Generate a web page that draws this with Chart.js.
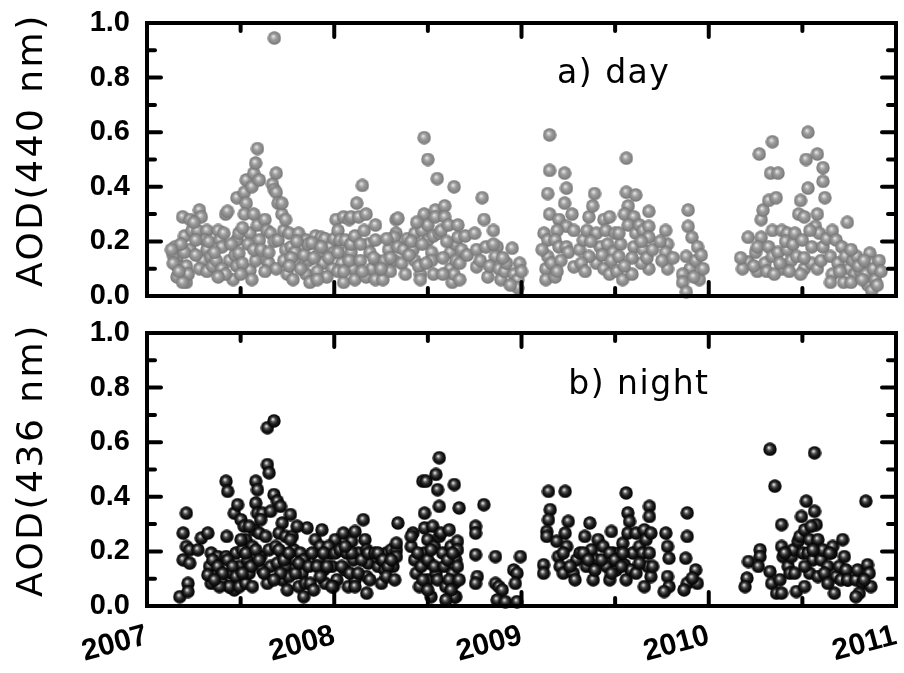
<!DOCTYPE html>
<html><head><meta charset="utf-8">
<script src="https://cdn.jsdelivr.net/npm/chart.js@4.4.1/dist/chart.umd.min.js"></script>
<style>
html,body{margin:0;padding:0;background:#fff;}
#wrap{position:relative;width:904px;height:673px;overflow:hidden;background:#fff;}
#c1{position:absolute;left:0;top:0;}
#c2{position:absolute;left:0;top:310px;}
</style></head><body>
<div id="wrap">
<canvas id="c1" width="904" height="330"></canvas>
<canvas id="c2" width="904" height="363"></canvas>
</div>
<script>
// ---------- data ----------
const yearTicks = [2007, 2008, 2009, 2010, 2011];
const aodTicks = [0.0, 0.2, 0.4, 0.6, 0.8, 1.0];
const axisTitles = ['AOD(440 nm)', 'AOD(436 nm)'];
const panelLabels = ['a) day', 'b) night'];

const dayTime = [
2007.15,2007.16,2007.16,2007.21,2007.21,2007.22,2007.19,2007.23,2007.20,2007.23,2007.14,2007.14,2007.16,2007.19,2007.17,2007.20,2007.18,2007.13,
2007.28,2007.29,2007.24,2007.27,2007.32,2007.31,2007.26,2007.30,2007.32,2007.34,2007.25,2007.33,2007.28,2007.32,2007.35,2007.26,
2007.38,2007.42,2007.43,2007.39,2007.40,2007.37,2007.44,2007.46,2007.41,2007.48,2007.49,2007.36,2007.40,2007.42,2007.47,2007.48,2007.45,2007.38,
2007.48,2007.52,2007.53,2007.57,2007.58,2007.59,2007.56,2007.53,2007.52,2007.55,2007.49,2007.55,2007.56,2007.57,2007.60,2007.60,2007.58,2007.51,2007.54,2007.51,2007.57,2007.50,2007.59,
2007.63,2007.64,2007.64,2007.65,2007.66,2007.67,2007.68,2007.69,2007.69,2007.70,2007.72,2007.72,2007.68,2007.70,2007.73,2007.74,2007.68,2007.61,2007.65,2007.69,2007.73,2007.63,2007.74,
2007.76,2007.77,2007.81,2007.83,2007.79,2007.75,2007.85,2007.86,2007.85,2007.87,2007.79,2007.77,2007.78,2007.82,2007.84,2007.86,2007.76,2007.80,
2007.90,2007.93,2007.95,2007.92,2007.94,2007.98,2007.99,2008.00,2007.88,2007.89,2007.91,2007.96,2007.97,2008.00,2007.93,2007.91,
2008.01,2008.02,2008.05,2008.08,2008.09,2008.03,2008.06,2008.06,2008.04,2008.05,2008.09,2008.10,2008.11,2008.12,2008.13,2008.09,2008.02,2008.08,2008.05,2008.11,2008.02,
2008.15,2008.17,2008.16,2008.18,2008.19,2008.17,2008.20,2008.22,2008.23,2008.22,2008.14,2008.15,2008.21,2008.22,2008.14,
2008.26,2008.27,2008.29,2008.32,2008.33,2008.33,2008.34,2008.32,2008.34,2008.30,2008.25,2008.28,2008.30,2008.36,2008.37,2008.38,2008.39,
2008.43,2008.42,2008.43,2008.46,2008.46,2008.48,2008.48,2008.50,2008.47,2008.50,2008.50,2008.52,2008.53,2008.54,2008.54,2008.52,2008.41,2008.45,2008.47,2008.49,2008.53,2008.40,2008.44,
2008.55,2008.56,2008.57,2008.59,2008.59,2008.61,2008.62,2008.62,2008.63,2008.64,2008.65,2008.66,2008.66,2008.65,2008.64,2008.58,2008.60,2008.58,2008.67,2008.68,2008.67,2008.70,2008.71,
2008.75,2008.76,2008.76,2008.79,2008.80,2008.81,2008.85,2008.87,2008.86,2008.78,2008.82,2008.83,2008.85,
2008.88,2008.89,2008.91,2008.95,2008.96,2008.98,2008.99,2008.98,2008.94,2008.92,2009.00,2008.90,
2009.15,2009.15,2009.14,2009.15,2009.12,2009.14,2009.14,2009.13,2009.13,2009.18,2009.23,2009.24,2009.23,2009.20,2009.24,2009.19,2009.18,2009.20,2009.24,2009.27,2009.28,2009.25,2009.28,2009.16,2009.21,2009.11,2009.19,
2009.31,2009.33,2009.35,2009.36,2009.39,2009.38,2009.40,2009.42,2009.40,2009.36,2009.44,2009.45,2009.47,2009.46,2009.44,2009.49,2009.50,2009.47,2009.32,2009.37,2009.43,2009.48,2009.34,
2009.56,2009.56,2009.61,2009.57,2009.55,2009.60,2009.57,2009.53,2009.52,2009.51,2009.54,2009.60,2009.61,2009.63,2009.65,2009.68,2009.68,2009.68,2009.65,2009.68,2009.64,2009.59,2009.52,2009.59,2009.64,2009.67,2009.55,2009.70,
2009.77,2009.78,2009.77,2009.78,2009.75,2009.89,2009.89,2009.91,2009.94,2009.88,2009.90,2009.86,2009.86,2009.88,2009.93,2009.95,2009.97,2009.74,2009.81,2009.96,2009.92,
2010.21,2010.21,2010.18,2010.25,2010.26,2010.27,2010.28,2010.28,2010.29,2010.26,2010.17,2010.24,2010.30,
2010.34,2010.33,2010.37,2010.32,2010.36,2010.34,2010.39,2010.32,2010.34,2010.31,2010.37,2010.39,2010.42,2010.42,2010.44,2010.35,2010.41,2010.43,2010.38,2010.45,
2010.53,2010.52,2010.58,2010.53,2010.49,2010.48,2010.51,2010.46,2010.50,2010.47,2010.51,2010.55,2010.57,2010.58,2010.61,2010.61,2010.62,2010.59,2010.61,2010.55,2010.58,2010.51,2010.54,2010.60,2010.63,2010.49,
2010.66,2010.68,2010.65,2010.69,2010.66,2010.65,2010.71,2010.74,2010.73,2010.75,2010.77,2010.78,2010.72,2010.79,2010.76,2010.81,2010.70,2010.76,2010.80,
2010.86,2010.87,2010.84,2010.88,2010.85,2010.87,2010.89,2010.83,2010.82,2010.91,2010.92,2010.90
];
const dayAOD = [
0.18,0.14,0.11,0.11,0.05,0.08,0.29,0.28,0.22,0.17,0.15,0.12,0.07,0.05,0.09,0.16,0.19,0.17,
0.315,0.29,0.24,0.24,0.24,0.205,0.205,0.13,0.17,0.145,0.27,0.20,0.10,0.09,0.11,0.15,
0.24,0.30,0.31,0.205,0.18,0.13,0.13,0.06,0.23,0.205,0.23,0.16,0.10,0.08,0.15,0.11,0.19,0.07,
0.36,0.38,0.425,0.45,0.487,0.54,0.40,0.34,0.30,0.23,0.157,0.095,0.06,0.30,0.425,0.205,0.13,0.25,0.19,0.12,0.17,0.08,0.26,
0.28,0.24,0.13,0.12,0.23,0.41,0.39,0.45,0.38,0.34,0.30,0.34,0.20,0.205,0.24,0.17,0.945,0.17,0.16,0.10,0.13,0.09,0.28,
0.23,0.18,0.23,0.18,0.12,0.08,0.205,0.13,0.08,0.05,0.16,0.14,0.06,0.10,0.15,0.19,0.11,0.20,
0.22,0.215,0.21,0.16,0.12,0.18,0.10,0.16,0.195,0.14,0.09,0.07,0.14,0.21,0.18,0.06,
0.28,0.24,0.29,0.28,0.29,0.205,0.205,0.16,0.12,0.05,0.16,0.10,0.06,0.34,0.29,0.19,0.09,0.13,0.09,0.22,0.16,
0.405,0.30,0.24,0.19,0.16,0.07,0.10,0.205,0.13,0.06,0.13,0.09,0.14,0.26,0.19,
0.06,0.13,0.17,0.13,0.23,0.28,0.285,0.215,0.18,0.09,0.10,0.21,0.14,0.12,0.17,0.08,0.21,
0.23,0.17,0.13,0.08,0.06,0.30,0.58,0.50,0.24,0.26,0.205,0.16,0.08,0.315,0.29,0.13,0.20,0.11,0.19,0.12,0.22,0.15,0.27,
0.43,0.23,0.24,0.33,0.29,0.26,0.16,0.10,0.05,0.40,0.19,0.215,0.26,0.13,0.08,0.14,0.20,0.08,0.12,0.17,0.06,0.22,0.15,
0.23,0.107,0.17,0.36,0.28,0.18,0.24,0.18,0.145,0.13,0.07,0.11,0.19,
0.10,0.06,0.09,0.175,0.08,0.06,0.12,0.03,0.04,0.12,0.09,0.14,
0.59,0.46,0.375,0.30,0.23,0.205,0.145,0.10,0.06,0.07,0.45,0.395,0.34,0.28,0.255,0.24,0.205,0.18,0.18,0.30,0.24,0.16,0.107,0.12,0.13,0.17,0.09,
0.17,0.205,0.24,0.29,0.375,0.33,0.23,0.18,0.12,0.145,0.28,0.24,0.29,0.19,0.10,0.16,0.23,0.08,0.12,0.20,0.15,0.13,0.09,
0.505,0.38,0.37,0.33,0.30,0.29,0.26,0.19,0.145,0.09,0.06,0.18,0.23,0.26,0.24,0.31,0.255,0.215,0.17,0.10,0.12,0.08,0.23,0.14,0.20,0.14,0.11,0.17,
0.24,0.19,0.16,0.10,0.13,0.315,0.255,0.215,0.18,0.145,0.10,0.08,0.05,0.015,0.13,0.06,0.10,0.20,0.14,0.15,0.07,
0.125,0.215,0.10,0.16,0.09,0.52,0.215,0.28,0.315,0.18,0.14,0.11,0.12,
0.565,0.45,0.45,0.35,0.36,0.24,0.24,0.18,0.145,0.09,0.16,0.10,0.23,0.17,0.13,0.08,0.20,0.09,0.12,0.19,
0.60,0.50,0.52,0.395,0.35,0.30,0.29,0.23,0.205,0.145,0.10,0.18,0.255,0.30,0.47,0.42,0.36,0.23,0.18,0.12,0.10,0.14,0.24,0.13,0.21,0.08,
0.24,0.205,0.145,0.12,0.08,0.05,0.18,0.27,0.145,0.10,0.13,0.08,0.05,0.145,0.05,0.09,0.09,0.17,0.11,
0.157,0.12,0.08,0.10,0.04,0.02,0.06,0.13,0.06,0.13,0.09,0.04
];

const nightTime = [
2007.175,2007.219,2007.219,2007.210,2007.193,2007.210,2007.228,2007.193,2007.228,2007.272,2007.290,2007.325,2007.343,2007.334,2007.343,2007.325,
2007.378,2007.396,2007.404,2007.422,2007.426,2007.422,2007.431,2007.449,2007.440,2007.466,2007.475,2007.466,2007.484,2007.493,2007.493,
2007.351,2007.378,2007.404,2007.431,2007.457,2007.475,2007.440,2007.493,2007.387,2007.360,
2007.502,2007.519,2007.528,2007.510,2007.537,2007.528,2007.546,2007.563,2007.581,2007.581,2007.590,2007.572,2007.599,2007.590,2007.616,2007.607,2007.616,2007.643,2007.643,2007.678,2007.643,2007.652,2007.660,2007.634,2007.652,2007.660,
2007.502,2007.528,2007.555,2007.581,2007.599,2007.625,2007.563,2007.510,2007.607,2007.546,
2007.678,2007.696,2007.713,2007.722,2007.766,2007.705,2007.740,2007.687,2007.722,2007.696,2007.740,2007.722,2007.749,2007.776,2007.784,2007.793,2007.758,2007.819,2007.837,2007.828,2007.811,2007.837,2007.855,
2007.705,2007.731,2007.758,2007.766,2007.793,2007.713,2007.802,2007.846,2007.811,2007.678,
2007.864,2007.872,2007.890,2007.899,2007.934,2007.925,2007.916,2007.943,2007.952,2007.978,2007.987,2008.005,2008.014,2007.996,
2007.881,2007.908,2007.925,2007.961,2007.969,2007.943,2008.005,2007.987,
2008.031,2008.049,2008.067,2008.058,2008.075,2008.093,2008.111,2008.102,2008.111,2008.128,2008.155,2008.164,2008.173,2008.181,2008.173,2008.173,2008.190,
2008.040,2008.084,2008.128,2008.146,2008.181,2008.093,2008.058,2008.111,
2008.217,2008.234,2008.252,2008.252,2008.279,2008.270,2008.305,2008.332,2008.332,2008.340,2008.314,
2008.234,2008.261,2008.287,2008.305,2008.332,2008.279,2008.323,
2008.420,2008.411,2008.429,2008.438,2008.455,2008.473,2008.482,2008.482,2008.490,2008.499,2008.482,2008.508,2008.499,2008.517,2008.526,2008.535,2008.543,2008.552,2008.561,2008.561,2008.543,
2008.411,2008.446,2008.464,2008.473,2008.499,2008.517,2008.535,2008.552,2008.499,2008.561,
2008.570,2008.579,2008.588,2008.596,2008.614,2008.623,2008.632,2008.641,2008.649,2008.658,2008.658,2008.667,2008.649,2008.641,
2008.605,2008.614,2008.632,2008.658,2008.667,2008.641,2008.623,2008.596,
2008.755,2008.755,2008.755,2008.764,2008.755,2008.799,2008.861,
2008.861,2008.879,2008.897,2008.870,2008.914,2008.958,2008.976,2008.967,2008.994,2008.976,
2009.144,2009.233,2009.153,2009.144,2009.135,2009.135,2009.118,2009.118,2009.188,2009.197,2009.206,2009.223,2009.250,2009.233,2009.241,2009.277,2009.286,2009.294,
2009.312,2009.338,2009.365,2009.347,2009.374,2009.383,2009.400,2009.409,2009.436,2009.454,2009.480,2009.489,2009.471,2009.506,
2009.524,2009.541,2009.559,2009.568,2009.577,2009.568,2009.550,2009.559,2009.594,2009.585,2009.612,2009.630,2009.647,2009.656,2009.674,2009.665,2009.683,2009.683,2009.691,2009.656,
2009.223,2009.259,2009.330,2009.356,2009.392,2009.427,2009.471,2009.498,2009.533,2009.612,2009.630,2009.683,2009.700,2009.691,2009.541,2009.480,
2009.771,2009.780,2009.788,2009.780,2009.788,2009.762,2009.885,2009.885,2009.877,2009.885,2009.868,2009.930,2009.939,2009.912,
2010.204,2010.212,2010.194,2010.274,2010.274,2010.265,2010.327,2010.353,2010.327,2010.336,2010.362,2010.389,2010.380,2010.389,2010.389,2010.397,
2010.424,2010.433,2010.442,2010.451,2010.468,2010.477,2010.486,2010.495,2010.521,2010.512,2010.503,2010.530,2010.539,2010.539,2010.556,2010.565,2010.565,2010.574,2010.547,
2010.583,2010.592,2010.583,2010.600,2010.609,2010.636,2010.654,2010.662,2010.671,2010.680,2010.697,2010.715,2010.724,2010.706,
2010.406,2010.459,2010.512,2010.556,2010.618,2010.645,2010.733,2010.742,2010.512,2010.636,
2010.742,2010.786,2010.795,2010.822,2010.839,2010.848,2010.857,2010.866,2010.804,2010.786,2010.830
];
const nightAOD = [
0.034,0.083,0.053,0.34,0.267,0.218,0.206,0.169,0.157,0.206,0.249,0.267,0.194,0.145,0.083,0.114,
0.181,0.12,0.083,0.181,0.255,0.457,0.42,0.12,0.071,0.059,0.194,0.34,0.371,0.108,0.145,
0.169,0.145,0.12,0.169,0.145,0.108,0.071,0.071,0.071,0.096,
0.316,0.292,0.243,0.206,0.169,0.083,0.12,0.218,0.377,0.457,0.426,0.279,0.267,0.34,0.34,0.181,0.132,0.083,0.653,0.678,0.518,0.488,0.347,0.255,0.206,0.145,
0.243,0.194,0.145,0.206,0.169,0.12,0.071,0.12,0.316,0.292,
0.408,0.384,0.365,0.304,0.335,0.267,0.255,0.218,0.194,0.157,0.145,0.096,0.059,0.255,0.206,0.169,0.108,0.194,0.169,0.12,0.071,0.034,0.286,
0.206,0.169,0.194,0.243,0.12,0.12,0.292,0.083,0.157,0.096,
0.145,0.083,0.059,0.243,0.279,0.218,0.169,0.132,0.083,0.194,0.145,0.243,0.096,0.071,
0.194,0.145,0.108,0.145,0.218,0.194,0.194,0.071,
0.206,0.267,0.194,0.132,0.071,0.237,0.273,0.169,0.096,0.194,0.316,0.243,0.206,0.157,0.108,0.047,0.096,
0.145,0.12,0.12,0.169,0.194,0.194,0.218,0.071,
0.194,0.145,0.083,0.169,0.194,0.132,0.206,0.206,0.181,0.304,0.145,
0.194,0.169,0.145,0.169,0.230,0.108,0.096,
0.267,0.218,0.169,0.12,0.071,0.457,0.286,0.34,0.457,0.243,0.194,0.157,0.096,0.034,0.292,0.218,0.482,0.426,0.543,0.365,0.12,
0.255,0.194,0.145,0.096,0.169,0.206,0.145,0.096,0.059,0.255,
0.267,0.194,0.145,0.071,0.279,0.218,0.12,0.445,0.034,0.237,0.206,0.359,0.169,0.083,
0.169,0.096,0.194,0.145,0.096,0.034,0.059,0.022,
0.292,0.267,0.188,0.108,0.083,0.371,0.181,
0.083,0.071,0.059,0.022,0.016,0.132,0.12,0.083,0.181,0.016,
0.42,0.42,0.353,0.316,0.273,0.255,0.151,0.12,0.237,0.181,0.145,0.12,0.31,0.267,0.218,0.12,0.096,0.169,
0.194,0.255,0.304,0.145,0.206,0.096,0.169,0.243,0.218,0.145,0.273,0.194,0.096,0.132,
0.194,0.230,0.414,0.341,0.31,0.267,0.151,0.096,0.194,0.132,0.267,0.218,0.194,0.279,0.145,0.243,0.365,0.328,0.108,0.071,
0.194,0.145,0.194,0.169,0.132,0.169,0.194,0.169,0.145,0.12,0.157,0.194,0.145,0.267,0.194,0.12,
0.267,0.218,0.175,0.108,0.071,0.053,0.341,0.255,0.175,0.083,0.059,0.132,0.083,0.102,
0.102,0.163,0.071,0.206,0.181,0.145,0.574,0.439,0.126,0.083,0.047,0.047,0.096,0.298,0.218,0.181,
0.145,0.12,0.181,0.206,0.053,0.237,0.255,0.328,0.384,0.279,0.194,0.194,0.243,0.12,0.169,0.561,0.347,0.298,0.292,
0.243,0.194,0.108,0.169,0.206,0.145,0.194,0.218,0.047,0.108,0.145,0.243,0.181,0.096,
0.194,0.12,0.145,0.206,0.12,0.194,0.132,0.096,0.071,0.083,
0.096,0.096,0.132,0.083,0.384,0.151,0.12,0.071,0.047,0.034,0.096
];

// ---------- styling helpers ----------
function makeSphere(stops) {
  const s = 14, c = document.createElement('canvas');
  c.width = s; c.height = s;
  const g = c.getContext('2d');
  const r = 6.7;
  const grad = g.createRadialGradient(s/2 - 1.2, s/2 - 1.8, 0.2, s/2, s/2, r);
  stops.forEach(([o, col]) => grad.addColorStop(o, col));
  g.fillStyle = grad;
  g.beginPath(); g.arc(s/2, s/2, r, 0, Math.PI * 2); g.fill();
  return c;
}
const graySphere = makeSphere([[0,'#f2f2f2'],[0.15,'#cbcbcb'],[0.45,'#9a9a9a'],[0.8,'#868686'],[1,'#707070']]);
const blackSphere = makeSphere([[0,'#f4f4f4'],[0.12,'#b8b8b8'],[0.32,'#555555'],[0.6,'#1c1c1c'],[1,'#000000']]);

const framePlugin = {
  id: 'frameTicks',
  afterDraw(chart, args, opts) {
    const {ctx, chartArea: a, scales: {x, y}} = chart;
    ctx.save();
    // panel text
    ctx.fillStyle = '#000';
    ctx.font = '33px "DejaVu Sans"';
    try { ctx.letterSpacing = '1.5px'; } catch(e) {}
    ctx.textAlign = 'left'; ctx.textBaseline = 'alphabetic';
    ctx.fillText(opts.label, x.getPixelForValue(opts.lx), y.getPixelForValue(opts.ly));
    // axis title (reads bottom to top), fitted to the reference extent
    ctx.font = '36px "DejaVu Sans"';
    try { ctx.letterSpacing = '2.5px'; } catch(e) {}
    ctx.translate(42, a.bottom - 9);
    ctx.rotate(-Math.PI / 2);
    ctx.textAlign = 'left';
    ctx.fillText(opts.title, 0, 0, 274);
    ctx.restore();

    ctx.save();
    ctx.strokeStyle = '#000';
    ctx.lineWidth = 4;
    ctx.lineCap = 'round';
    const major = 14, minor = 8;
    const xMinor = [];
    for (let i = 0; i < yearTicks.length - 1; i++) xMinor.push((yearTicks[i] + yearTicks[i+1]) / 2);
    const yMinor = [];
    for (let i = 0; i < aodTicks.length - 1; i++) yMinor.push((aodTicks[i] + aodTicks[i+1]) / 2);
    const seg = (x1, y1, x2, y2) => { ctx.beginPath(); ctx.moveTo(x1, y1); ctx.lineTo(x2, y2); ctx.stroke(); };
    yearTicks.forEach(v => { const p = x.getPixelForValue(v); seg(p, a.bottom, p, a.bottom - major); seg(p, a.top, p, a.top + major); });
    xMinor.forEach(v => { const p = x.getPixelForValue(v); seg(p, a.bottom, p, a.bottom - minor); seg(p, a.top, p, a.top + minor); });
    aodTicks.forEach(v => { const p = y.getPixelForValue(v); seg(a.left, p, a.left + major, p); seg(a.right, p, a.right - major, p); });
    yMinor.forEach(v => { const p = y.getPixelForValue(v); seg(a.left, p, a.left + minor, p); seg(a.right, p, a.right - minor, p); });
    ctx.lineCap = 'butt';
    ctx.lineJoin = 'miter';
    ctx.strokeRect(a.left, a.top, a.right - a.left, a.bottom - a.top);
    ctx.restore();
  }
};

function makeChart(id, times, values, sphere, idx, showX, canvasH) {
  const pts = times.map((t, i) => ({x: t, y: values[i]}));
  return new Chart(document.getElementById(id), {
    type: 'scatter',
    data: { datasets: [{ data: pts, pointStyle: sphere, radius: 7, clip: false }] },
    plugins: [framePlugin],
    options: {
      responsive: false, animation: false, events: [],
      layout: { padding: { top: 23, right: 2, left: 0, bottom: 0 } },
      plugins: {
        legend: { display: false }, tooltip: { enabled: false },
        frameTicks: { title: axisTitles[idx], label: panelLabels[idx], lx: idx === 0 ? 2009.19 : 2009.25, ly: idx === 0 ? 0.78 : 0.775 }
      },
      scales: {
        x: {
          type: 'linear', min: yearTicks[0], max: yearTicks[yearTicks.length - 1],
          grid: { display: false, drawTicks: false }, border: { display: false },
          afterBuildTicks: s => { s.ticks = yearTicks.map(v => ({value: v})); },
          afterFit: s => { s.height = canvasH - 296; s.paddingLeft = 0; s.paddingRight = 0; },
          ticks: {
            display: showX, autoSkip: false, minRotation: 15, maxRotation: 15, padding: 12,
            color: '#000', font: { family: '"Liberation Sans", Arial, sans-serif', weight: 'bold', size: 30 },
            callback: v => String(v)
          }
        },
        y: {
          min: 0, max: 1,
          grid: { display: false, drawTicks: false }, border: { display: false },
          afterBuildTicks: s => { s.ticks = aodTicks.map(v => ({value: v})); },
          afterFit: s => { s.width = 147; s.paddingTop = 0; s.paddingBottom = 0; },
          ticks: {
            padding: 17, color: '#000',
            font: { family: '"Liberation Sans", Arial, sans-serif', weight: 'bold', size: 29 },
            callback: v => Number(v).toFixed(1)
          }
        }
      }
    }
  });
}

makeChart('c1', dayTime, dayAOD, graySphere, 0, false, 330);
makeChart('c2', nightTime, nightAOD, blackSphere, 1, true, 363);
</script>
</body></html>
